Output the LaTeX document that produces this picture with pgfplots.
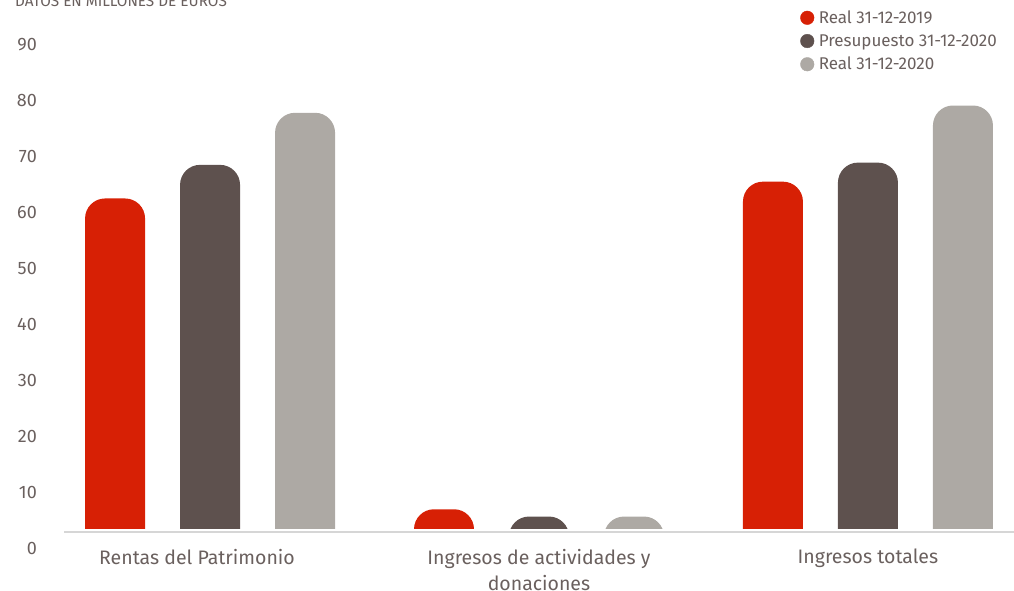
\documentclass[border=0pt]{standalone}
\usepackage{fontspec}
\setmainfont{Fira Sans}
\usepackage{pgfplots}
\usepackage{pgfplotstable}
\pgfplotsset{compat=1.18}
\definecolor{cred}{HTML}{D72005}
\definecolor{cdark}{HTML}{5E514E}
\definecolor{cgray}{HTML}{ADA9A4}
\definecolor{ctext}{HTML}{6A605E}
\definecolor{cline}{HTML}{D6D6D6}
% values in millions of euros
\pgfplotstableread{
x v
0 58.9
1 3.4
2 61.9
}\realA
\pgfplotstableread{
x v
0 64.9
1 2.1
2 65.3
}\presup
\pgfplotstableread{
x v
0 74.2
1 2.1
2 75.5
}\realB
\pgfplotsset{frame/.style={
  at={(64pt,5.7pt)}, anchor=south west,
  scale only axis, width=950pt, height=584.3pt,
  xmin=-0.444, xmax=2.444,
  ymin=0, ymax=104.34,
}}
\begin{document}
\begin{tikzpicture}
% bars: baseline shifted 10 units below the visible zero line and clipped there
\begin{scope}
\clip (64pt,61.7pt) rectangle (1014pt,600pt);
\begin{axis}[frame,
  ybar=35pt, bar width=60pt,
  hide axis, clip=false,
]
\addplot[fill=cred, draw=none, rounded corners=20pt]
  table[x=x, y expr=\thisrow{v}+10] {\realA};
\addplot[fill=cdark, draw=none, rounded corners=20pt]
  table[x=x, y expr=\thisrow{v}+10] {\presup};
\addplot[fill=cgray, draw=none, rounded corners=20pt]
  table[x=x, y expr=\thisrow{v}+10] {\realB};
\end{axis}
\end{scope}
% labels, legend, zero line
\begin{axis}[frame,
  axis line style={draw=none},
  tick style={draw=none},
  major tick length=0pt,
  xtick={0,1,2},
  xticklabels={Rentas del Patrimonio\hspace*{26pt},{Ingresos de actividades y\\donaciones},Ingresos totales},
  ytick={10,20,...,100},
  yticklabels={0,10,20,30,40,50,60,70,80,90},
  /pgf/number format/assume math mode=true,
  xticklabel style={align=center, anchor=north, inner sep=0pt, yshift=35.5pt,
    font=\fontsize{19.5}{26}\selectfont, text=ctext},
  yticklabel style={anchor=east, inner sep=0pt, xshift=-27pt, yshift=-20.5pt,
    font=\fontsize{18}{18}\selectfont, text=ctext},
  legend style={at={(0.7748,0.9855)}, anchor=north west, draw=none, fill=none,
    font=\fontsize{17}{17}\selectfont, text=ctext, inner sep=0pt,
    row sep=5.5pt, column sep=2.5pt, cells={anchor=west}},
  legend cell align=left,
]
\addlegendimage{legend image code/.code={\fill[cred] (0pt,0pt) circle (6.8pt);}}
\addlegendentry{Real 31-12-2019}
\addlegendimage{legend image code/.code={\fill[cdark] (0pt,0pt) circle (6.8pt);}}
\addlegendentry{Presupuesto 31-12-2020}
\addlegendimage{legend image code/.code={\fill[cgray] (0pt,0pt) circle (6.8pt);}}
\addlegendentry{Real 31-12-2020}
\draw[cline, line width=1.3pt] (axis cs:-0.444,9.34) -- (axis cs:2.444,9.34);
\end{axis}
\node[anchor=base west, inner sep=0pt, text=ctext, font=\fontsize{15.3}{15.3}\selectfont]
  at (15pt,583.5pt) {DATOS EN MILLONES DE EUROS};
\pgfresetboundingbox
\useasboundingbox (0pt,0pt) rectangle (1014pt,590pt);
\end{tikzpicture}
\end{document}
